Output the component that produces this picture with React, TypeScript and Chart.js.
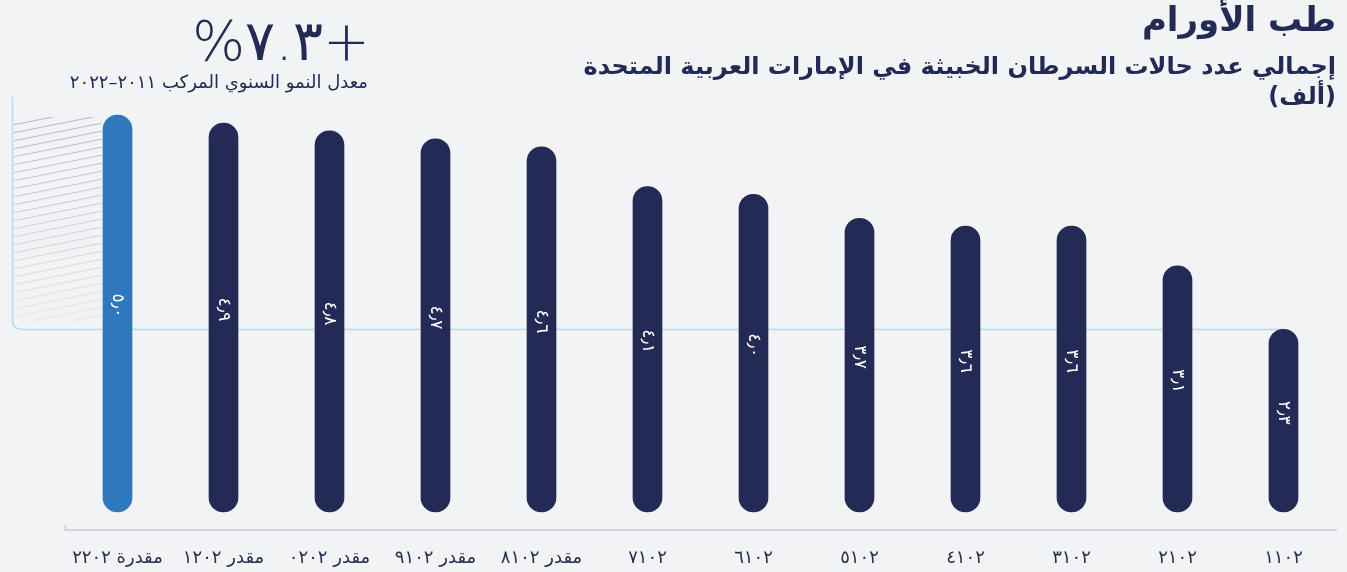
import React, { useEffect, useRef } from "react";
import { Chart, registerables } from "chart.js";

Chart.register(...registerables);

// Categories as shown in the picture (left to right)
const categories = [
  "مقدرة ٢٢٠٢",
  "مقدر ١٢٠٢",
  "مقدر ٠٢٠٢",
  "مقدر ٩١٠٢",
  "مقدر ٨١٠٢",
  "٧١٠٢",
  "٦١٠٢",
  "٥١٠٢",
  "٤١٠٢",
  "٣١٠٢",
  "٢١٠٢",
  "١١٠٢",
];

// Malignant cancer cases (thousand)
const cases = [5.0, 4.9, 4.8, 4.7, 4.6, 4.1, 4.0, 3.7, 3.6, 3.6, 3.1, 2.3];

const valueLabels = ["٥٫٠", "٤٫٩", "٤٫٨", "٤٫٧", "٤٫٦", "٤٫١", "٤٫٠", "٣٫٧", "٣٫٦", "٣٫٦", "٣٫١", "٢٫٣"];

const highlightColor = "#2f78bd";
const baseColor = "#232a56";
const barColors = cases.map((_, i) => (i === 0 ? highlightColor : baseColor));

const yMin = -0.227;
const yMax = 5.227;

const titleText = "طب الأورام";
const subtitleLine1 = "إجمالي عدد حالات السرطان الخبيثة في الإمارات العربية المتحدة";
const subtitleLine2 = "(ألف)";
const cagrText = "+٧.٣%";
const cagrCaption = "معدل النمو السنوي المركب ٢٠١١–٢٠٢٢";

const arabicFont = "'DejaVu Sans', sans-serif";

const decoPlugin = {
  id: "deco",
  beforeDraw(chart: any) {
    const { ctx, width, height } = chart;
    ctx.save();
    ctx.fillStyle = "#f2f3f4";
    ctx.fillRect(0, 0, width, height);
    ctx.restore();
  },
  beforeDatasetsDraw(chart: any) {
    const { ctx, chartArea, scales } = chart;
    const meta = chart.getDatasetMeta(0);
    const last = cases.length - 1;
    const x0 = chartArea.left - 52;
    const yTop = chartArea.top;
    const yLine = scales.y.getPixelForValue(cases[last]);
    const xEnd = scales.x.getPixelForValue(last);
    const r = 10;

    // hatch area
    const bar0 = meta.data[0];
    const hx1 = bar0.x - bar0.width / 2 - 1;
    const hyTop = scales.y.getPixelForValue(cases[0]) + 2;
    const hyBot = yLine - 8;
    ctx.save();
    ctx.beginPath();
    ctx.rect(x0 + 1, hyTop, hx1 - x0 - 1, hyBot - hyTop);
    ctx.clip();
    const grad = ctx.createLinearGradient(0, hyTop, 0, hyBot);
    grad.addColorStop(0, "rgba(140,140,180,0.6)");
    grad.addColorStop(1, "rgba(140,140,180,0.12)");
    ctx.strokeStyle = grad;
    ctx.lineWidth = 1;
    const slope = 0.2;
    const w = hx1 - x0;
    for (let yy = hyTop; yy < hyBot + w * slope + 10; yy += 8) {
      ctx.beginPath();
      ctx.moveTo(x0, yy);
      ctx.lineTo(hx1, yy - slope * w);
      ctx.stroke();
    }
    ctx.restore();

    // frame line
    ctx.save();
    ctx.strokeStyle = "#b5dcf0";
    ctx.lineWidth = 1.5;
    ctx.beginPath();
    ctx.moveTo(x0, yTop);
    ctx.lineTo(x0, yLine - r);
    ctx.quadraticCurveTo(x0, yLine, x0 + r, yLine);
    ctx.lineTo(xEnd, yLine);
    ctx.stroke();
    ctx.restore();

    // small tick at left end of axis
    ctx.save();
    ctx.strokeStyle = "#d3d5de";
    ctx.lineWidth = 2;
    ctx.beginPath();
    ctx.moveTo(chartArea.left + 1, chartArea.bottom - 5);
    ctx.lineTo(chartArea.left + 1, chartArea.bottom);
    ctx.stroke();
    ctx.restore();
  },
  afterDatasetsDraw(chart: any) {
    const { ctx, scales } = chart;
    const meta = chart.getDatasetMeta(0);
    const base = scales.y.getPixelForValue(0);
    ctx.save();
    ctx.fillStyle = "#ffffff";
    ctx.font = `17px ${arabicFont}`;
    ctx.textAlign = "center";
    ctx.textBaseline = "middle";
    meta.data.forEach((bar: any, i: number) => {
      const cy = (bar.y + base) / 2 - 8;
      ctx.save();
      ctx.translate(bar.x, cy);
      ctx.rotate(Math.PI / 2);
      ctx.fillText(valueLabels[i], 0, 0);
      ctx.restore();
    });
    ctx.restore();
  },
};

export default function App() {
  const canvasRef = useRef<HTMLCanvasElement | null>(null);

  useEffect(() => {
    document.body.style.margin = "0";
    document.body.style.background = "#f2f3f4";
    const canvas = canvasRef.current;
    if (!canvas) return;
    const chart = new Chart(canvas, {
      type: "bar",
      data: {
        labels: categories,
        datasets: [
          {
            data: cases,
            backgroundColor: barColors,
            borderRadius: 15,
            borderSkipped: false,
            barThickness: 29,
          },
        ],
      },
      options: {
        animation: false,
        responsive: false,
        maintainAspectRatio: false,
        layout: { padding: { top: 97, left: 64.5, right: 10.5, bottom: 0 } },
        plugins: {
          legend: { display: false },
          title: { display: false },
          tooltip: { enabled: false },
        },
        scales: {
          x: {
            grid: { display: false, drawTicks: false },
            border: { display: true, color: "#d3d5de", width: 2 },
            ticks: {
              color: "#2a2f4f",
              font: { family: arabicFont, size: 18 },
              padding: 18,
              maxRotation: 0,
              autoSkip: false,
            },
            afterFit(scale: any) {
              scale.height = 42;
            },
          },
          y: {
            display: false,
            min: yMin,
            max: yMax,
          },
        },
      },
      plugins: [decoPlugin],
    } as any);
    return () => chart.destroy();
  }, []);

  return (
    <div style={{ position: "relative", width: 1347, height: 572, overflow: "hidden", background: "#f2f3f4" }}>
      <canvas ref={canvasRef} width={1347} height={572} style={{ display: "block" }} />
      <div
        dir="rtl"
        style={{
          position: "absolute",
          right: 11,
          top: -4,
          fontFamily: arabicFont,
          fontWeight: 700,
          fontSize: 34,
          lineHeight: "46px",
          color: "#232a56",
          whiteSpace: "nowrap",
        }}
      >
        {titleText}
      </div>
      <div
        dir="rtl"
        style={{
          position: "absolute",
          right: 11,
          top: 51,
          fontFamily: arabicFont,
          fontWeight: 700,
          fontSize: 24,
          lineHeight: "30px",
          color: "#232a56",
          whiteSpace: "nowrap",
          textAlign: "right",
        }}
      >
        <div>{subtitleLine1}</div>
        <div>{subtitleLine2}</div>
      </div>
      <div
        dir="rtl"
        style={{
          position: "absolute",
          right: 1347 - 370,
          top: 9,
          fontFamily: arabicFont,
          fontWeight: 200,
          fontSize: 56,
          lineHeight: "64px",
          color: "#232a56",
          whiteSpace: "nowrap",
        }}
      >
        {cagrText}
      </div>
      <div
        dir="rtl"
        style={{
          position: "absolute",
          right: 1347 - 368,
          top: 70,
          fontFamily: arabicFont,
          fontSize: 18,
          lineHeight: "24px",
          color: "#232a56",
          whiteSpace: "nowrap",
        }}
      >
        {cagrCaption}
      </div>
    </div>
  );
}
